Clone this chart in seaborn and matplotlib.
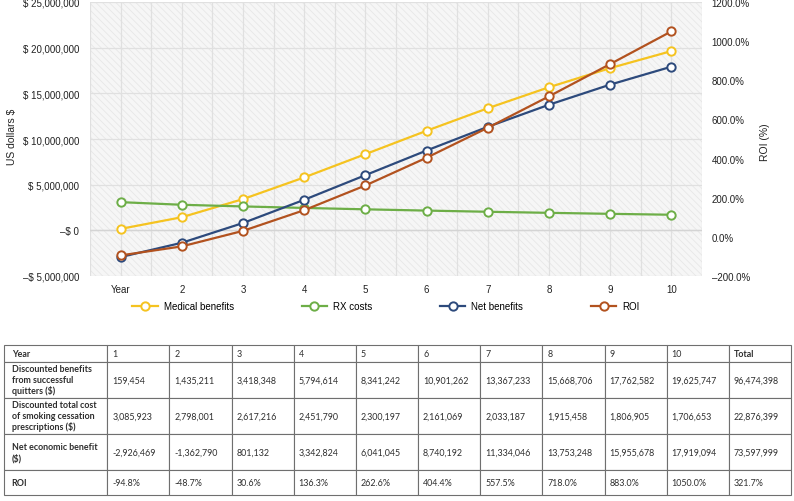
import matplotlib
matplotlib.use("Agg")
import matplotlib.pyplot as plt
from matplotlib.patches import Rectangle
from matplotlib.ticker import FixedLocator, FuncFormatter
import seaborn as sns
import pandas as pd

# ---------------- data ----------------
years = [1, 2, 3, 4, 5, 6, 7, 8, 9, 10]
year_labels = ["Year", "2", "3", "4", "5", "6", "7", "8", "9", "10"]
medical = [159454, 1435211, 3418348, 5794614, 8341242, 10901262, 13367233, 15668706, 17762582, 19625747]
rx_costs = [3085923, 2798001, 2617216, 2451790, 2300197, 2161069, 2033187, 1915458, 1806905, 1706653]
net = [-2926469, -1362790, 801132, 3342824, 6041045, 8740192, 11334046, 13753248, 15955678, 17919094]
roi = [-94.8, -48.7, 30.6, 136.3, 262.6, 404.4, 557.5, 718.0, 883.0, 1050.0]
totals_money = [96474398, 22876399, 73597999]
total_roi = 321.7
series_names = ["Medical benefits", "RX costs", "Net benefits", "ROI"]
row_labels = ["Year",
              "Discounted benefits\nfrom successful\nquitters ($)",
              "Discounted total cost\nof smoking cessation\nprescriptions ($)",
              "Net economic benefit\n($)",
              "ROI"]

colors = {"Medical benefits": "#F5C320", "RX costs": "#6DAE47",
          "Net benefits": "#2D4A7C", "ROI": "#B2521F"}

W, H = 794, 502
fig = plt.figure(figsize=(W / 100, H / 100), dpi=100)
plt.rcParams["hatch.linewidth"] = 0.6

ax = fig.add_axes([90 / W, (H - 277) / H, 612 / W, 274 / H])
ax2 = ax.twinx()

# hatched background
ax.add_patch(Rectangle((0, 0), 1, 1, transform=ax.transAxes, facecolor="#f6f6f6",
                       edgecolor="#e7e7e7", hatch="\\\\\\\\\\", lw=0, zorder=0))

df = pd.DataFrame({"year": years, "Medical benefits": medical, "RX costs": rx_costs,
                   "Net benefits": net, "ROI": roi})

line_kw = dict(marker="o", markersize=6, markerfacecolor="white", markeredgewidth=1.4,
               linewidth=1.6)
for name in ["Medical benefits", "RX costs", "Net benefits"]:
    sns.lineplot(data=df, x="year", y=name, ax=ax, color=colors[name],
                 markeredgecolor=colors[name], label=name, legend=False, zorder=3, **line_kw)
sns.lineplot(data=df, x="year", y="ROI", ax=ax2, color=colors["ROI"],
             markeredgecolor=colors["ROI"], label="ROI", legend=False, zorder=3, **line_kw)

ax.set_xlim(0.5, 10.5)
ax.set_ylim(-5e6, 25e6)
ax2.set_ylim(-200, 1200)

ax.xaxis.set_major_locator(FixedLocator(years))
ax.set_xticklabels(year_labels)
ax.xaxis.set_minor_locator(FixedLocator([y + 0.5 for y in [0] + years]))
ax.yaxis.set_major_locator(FixedLocator([-5e6, 0, 5e6, 10e6, 15e6, 20e6, 25e6]))
ax2.yaxis.set_major_locator(FixedLocator([-200, 0, 200, 400, 600, 800, 1000, 1200]))


def money(v, pos):
    if v <= 0:
        return "\u2013$ {:,.0f}".format(abs(v))
    return "$ {:,.0f}".format(v)


def pct(v, pos):
    if v < 0:
        return "\u2013{:.1f}%".format(abs(v))
    return "{:.1f}%".format(v)


ax.yaxis.set_major_formatter(FuncFormatter(money))
ax2.yaxis.set_major_formatter(FuncFormatter(pct))

ax.set_axisbelow(True)
ax.grid(True, which="both", axis="x", color="#e0e0e0", lw=0.9)
ax.grid(True, which="major", axis="y", color="#e0e0e0", lw=0.9)
ax.axhline(0, color="#d4d4d4", lw=1.0, zorder=0.6)

for a in (ax, ax2):
    for s in a.spines.values():
        s.set_visible(False)
    a.set_xlabel("")
    a.set_ylabel("")

ax.tick_params(axis="both", which="both", length=0, colors="#222222")
ax.tick_params(axis="y", pad=8)
ax.tick_params(axis="x", pad=6)
ax2.tick_params(axis="y", length=0, pad=7, colors="#222222")
for lbl in ax.get_xticklabels() + ax.get_yticklabels() + ax2.get_yticklabels():
    lbl.set_fontfamily("Liberation Sans")
    lbl.set_fontsize(7)

fig.text(12 / W, 1 - 137 / H, "US dollars $", rotation=90, ha="center", va="center",
         fontsize=7.5, family="Liberation Sans", color="#222222")
fig.text(765 / W, 1 - 142 / H, "ROI (%)", rotation=90, ha="center", va="center",
         fontsize=7.5, family="Liberation Sans", color="#222222")

handles = [h for h in ax.get_lines() if h.get_label() in series_names] + \
          [h for h in ax2.get_lines() if h.get_label() in series_names]
fig.legend(handles, series_names, loc="center", bbox_to_anchor=(386 / W, 1 - 307 / H),
           ncol=4, frameon=False, handlelength=2.6, handletextpad=0.6, columnspacing=7.0,
           prop=dict(family="Liberation Sans", size=7))

# ---------------- table ----------------
tab_ax = fig.add_axes([4 / W, (H - 496) / H, 787 / W, 150 / H])
tab_ax.axis("off")

cells = [["Year"] + [str(y) for y in years] + ["Total"]]
for lab, vals, tot in zip(row_labels[1:4], [medical, rx_costs, net], totals_money):
    cells.append([lab] + ["{:,}".format(v) for v in vals] + ["{:,}".format(tot)])
cells.append([row_labels[4]] + ["{:.1f}%".format(v) for v in roi] + ["{:.1f}%".format(total_roi)])

col_w = [103] + [62] * 11
row_h = [17, 36, 36, 36, 25]
tbl = tab_ax.table(cellText=cells, cellLoc="left", colWidths=[c / sum(col_w) for c in col_w],
                   bbox=[0, 0, 1, 1])
tbl.auto_set_font_size(False)
for (r, c), cell in tbl.get_celld().items():
    cell.set_height(row_h[r] / sum(row_h))
    cell.set_edgecolor("#6f6f6f")
    cell.set_linewidth(0.8)
    cell.PAD = 0.075 if c == 0 else 0.08
    t = cell.get_text()
    t.set_fontfamily("Lato")
    t.set_fontsize(6.4)
    t.set_color("#2e2e2e")
    t.set_linespacing(1.2)
    if c == 0 or (r == 0 and c == 11):
        t.set_fontweight("bold")

fig.savefig("out.png", dpi=100)
